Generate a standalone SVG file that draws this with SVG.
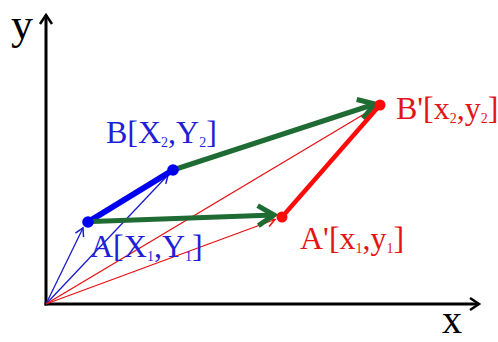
<svg xmlns="http://www.w3.org/2000/svg" width="498" height="342" viewBox="0 0 498 342">
<style>
text{font-family:"Liberation Serif","Times New Roman",serif;}
.lbl{font-size:32px;}
.sub{font-size:14px;}
.blueT{fill:#1f1fd8;}
.redT{fill:#e41414;}
.axis{stroke:#000;stroke-width:3;fill:none;}
.thinB{stroke:#1a1ad0;stroke-width:1.3;fill:none;}
.thinR{stroke:#e81010;stroke-width:1.3;fill:none;}
.thickG{stroke:#1f6b34;stroke-width:5;fill:none;}
.thickB{stroke:#0000f0;stroke-width:6;fill:none;stroke-linecap:round;}
.thickR{stroke:#ff0a0a;stroke-width:4.5;fill:none;}
</style>
<defs>
<marker id="mAxis" markerUnits="userSpaceOnUse" markerWidth="1" markerHeight="1" orient="auto" overflow="visible" refX="0" refY="0">
<path d="M-9,-6 L0,0 L-9,6" fill="none" stroke="#000" stroke-width="2.5"/>
</marker>
<marker id="mBlue" markerUnits="userSpaceOnUse" markerWidth="1" markerHeight="1" orient="auto" overflow="visible" refX="0" refY="0">
<path d="M-8,-4.5 L0,0 L-8,4.5" fill="none" stroke="#1a1ad0" stroke-width="1.5"/>
</marker>
<marker id="mRed" markerUnits="userSpaceOnUse" markerWidth="1" markerHeight="1" orient="auto" overflow="visible" refX="0" refY="0">
<path d="M-8,-4.5 L0,0 L-8,4.5" fill="none" stroke="#e81010" stroke-width="1.5"/>
</marker>
<marker id="mGreen" markerUnits="userSpaceOnUse" markerWidth="1" markerHeight="1" orient="auto" overflow="visible" refX="0" refY="0">
<path d="M-16,-10 L0,0 L-16,10" fill="none" stroke="#1f6b34" stroke-width="5"/>
</marker>
</defs>
<g id="axes">
<line class="axis" x1="46" y1="305.5" x2="46" y2="15" marker-end="url(#mAxis)"/>
<line class="axis" x1="44.5" y1="304" x2="479" y2="304" marker-end="url(#mAxis)"/>
<text x="11" y="39" font-size="44">y</text>
<text x="442" y="333" font-size="40">x</text>
</g>
<g id="connectors">
<line class="thinB" x1="46" y1="304" x2="83" y2="228" marker-end="url(#mBlue)"/>
<line class="thinB" x1="46" y1="304" x2="168" y2="175" marker-end="url(#mBlue)"/>
<line class="thinR" x1="46" y1="304" x2="275" y2="219.5" marker-end="url(#mRed)"/>
<line class="thinR" x1="46" y1="304" x2="376" y2="107" marker-end="url(#mRed)"/>
<line class="thickB" x1="88" y1="222" x2="173" y2="170"/>
<line class="thickG" x1="92" y1="221.5" x2="274" y2="215" marker-end="url(#mGreen)"/>
<line class="thickG" x1="176" y1="169" x2="375" y2="104" marker-end="url(#mGreen)"/>
<line class="thickR" x1="282" y1="217" x2="380" y2="105"/>
</g>
<g id="A">
<circle cx="88" cy="222" r="5.8" fill="#0000f0"/>
<text class="lbl blueT" x="90" y="257">A[X<tspan class="sub" dy="4">1</tspan><tspan dy="-4">,Y</tspan><tspan class="sub" dy="4">1</tspan><tspan dy="-4">]</tspan></text>
</g>
<g id="B">
<circle cx="173" cy="170" r="5.8" fill="#0000f0"/>
<text class="lbl blueT" x="106" y="143">B[X<tspan class="sub" dy="4">2</tspan><tspan dy="-4">,Y</tspan><tspan class="sub" dy="4">2</tspan><tspan dy="-4">]</tspan></text>
</g>
<g id="A_prime">
<circle cx="282" cy="217" r="5.5" fill="#ff0a0a"/>
<text class="lbl redT" x="300" y="249">A'[x<tspan class="sub" dy="4">1</tspan><tspan dy="-4">,y</tspan><tspan class="sub" dy="4">1</tspan><tspan dy="-4">]</tspan></text>
</g>
<g id="B_prime">
<circle cx="380" cy="105" r="5.5" fill="#ff0a0a"/>
<text class="lbl redT" x="396" y="119">B'[x<tspan class="sub" dy="4">2</tspan><tspan dy="-4">,y</tspan><tspan class="sub" dy="4">2</tspan><tspan dy="-4">]</tspan></text>
</g>
</svg>
